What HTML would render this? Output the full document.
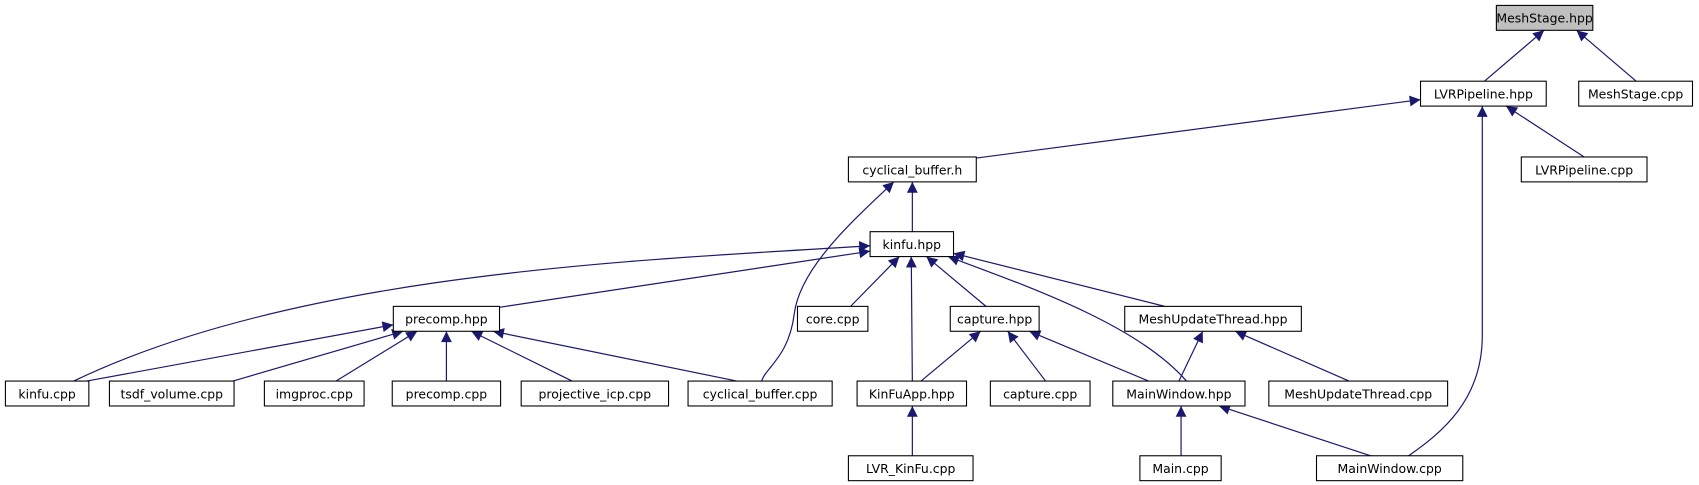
<!DOCTYPE html>
<html><head><meta charset="utf-8"><style>
html,body{margin:0;padding:0;background:#fff;width:1699px;height:485px;overflow:hidden}
svg{display:block}
text{font-family:"DejaVu Sans","Liberation Sans",sans-serif;font-size:11.5px;fill:#000}
.n{fill:#fff;stroke:#000;stroke-width:1}
.e{fill:none;stroke:#191970;stroke-width:1.1}
</style></head><body>
<svg width="1699" height="485" viewBox="0 0 1568 448" preserveAspectRatio="none">
<defs><marker id="a" viewBox="0 0 10 10" refX="10" refY="5" markerWidth="12" markerHeight="10" markerUnits="userSpaceOnUse" orient="auto"><path d="M0,0 L10,5 L0,10 z" fill="#191970"/></marker></defs>
<g class="edges">
<path class="e" marker-end="url(#a)" d="M1370,75 L1425,28"/>
<path class="e" marker-end="url(#a)" d="M1510,75 L1455,28"/>
<path class="e" marker-end="url(#a)" d="M901,146 L1311,92"/>
<path class="e" marker-end="url(#a)" d="M1462,145 L1390,98"/>
<path class="e" marker-end="url(#a)" d="M1300,421 C1330,400 1368,370 1368,310 L1368,98"/>
<path class="e" marker-end="url(#a)" d="M842,214 L842,168"/>
<path class="e" marker-end="url(#a)" d="M703,352 C706,340 728,330 733,290 C738,250 780,210 825,168"/>
<path class="e" marker-end="url(#a)" d="M68,352 C280,250 600,240 803,227"/>
<path class="e" marker-end="url(#a)" d="M460,284 L803,232"/>
<path class="e" marker-end="url(#a)" d="M785,283 L830,237"/>
<path class="e" marker-end="url(#a)" d="M842,352 L841,237"/>
<path class="e" marker-end="url(#a)" d="M910,283 L855,237"/>
<path class="e" marker-end="url(#a)" d="M1095,352 C1050,300 950,265 875,237"/>
<path class="e" marker-end="url(#a)" d="M1075,283 L880,234"/>
<path class="e" marker-end="url(#a)" d="M80,352 L363,300"/>
<path class="e" marker-end="url(#a)" d="M215,352 L372,306"/>
<path class="e" marker-end="url(#a)" d="M310,352 L385,306"/>
<path class="e" marker-end="url(#a)" d="M412,352 L412,306"/>
<path class="e" marker-end="url(#a)" d="M528,352 L435,306"/>
<path class="e" marker-end="url(#a)" d="M680,352 L455,306"/>
<path class="e" marker-end="url(#a)" d="M850,352 L905,306"/>
<path class="e" marker-end="url(#a)" d="M965,352 L930,306"/>
<path class="e" marker-end="url(#a)" d="M1060,352 L950,306"/>
<path class="e" marker-end="url(#a)" d="M1088,352 L1110,306"/>
<path class="e" marker-end="url(#a)" d="M1245,352 L1140,306"/>
<path class="e" marker-end="url(#a)" d="M842,421 L842,375"/>
<path class="e" marker-end="url(#a)" d="M1090,421 L1090,375"/>
<path class="e" marker-end="url(#a)" d="M1265,421 L1125,375"/>
</g>
<g text-anchor="middle">
<rect x="1381" y="5" width="89" height="23" fill="#bfbfbf" stroke="#000"/><text x="1425.5" y="21">MeshStage.hpp</text>
<rect class="n" x="1311" y="75" width="116" height="23"/><text x="1369" y="91">LVRPipeline.hpp</text>
<rect class="n" x="1457" y="75" width="105" height="23"/><text x="1509.5" y="91">MeshStage.cpp</text>
<rect class="n" x="783" y="145" width="118" height="23"/><text x="842" y="161">cyclical_buffer.h</text>
<rect class="n" x="1404" y="145" width="116" height="23"/><text x="1462" y="161">LVRPipeline.cpp</text>
<rect class="n" x="803" y="214" width="77" height="23"/><text x="841.5" y="230">kinfu.hpp</text>
<rect class="n" x="363" y="283" width="98" height="23"/><text x="412" y="299">precomp.hpp</text>
<rect class="n" x="736" y="283" width="65" height="23"/><text x="768.5" y="299">core.cpp</text>
<rect class="n" x="877" y="283" width="82" height="23"/><text x="918" y="299">capture.hpp</text>
<rect class="n" x="1038" y="283" width="163" height="23"/><text x="1119.5" y="299">MeshUpdateThread.hpp</text>
<rect class="n" x="5" y="352" width="77" height="23"/><text x="43.5" y="368">kinfu.cpp</text>
<rect class="n" x="101" y="352" width="115" height="23"/><text x="158.5" y="368">tsdf_volume.cpp</text>
<rect class="n" x="244" y="352" width="92" height="23"/><text x="290" y="368">imgproc.cpp</text>
<rect class="n" x="362" y="352" width="100" height="23"/><text x="412" y="368">precomp.cpp</text>
<rect class="n" x="481" y="352" width="136" height="23"/><text x="549" y="368">projective_icp.cpp</text>
<rect class="n" x="635" y="352" width="133" height="23"/><text x="701.5" y="368">cyclical_buffer.cpp</text>
<rect class="n" x="791" y="352" width="101" height="23"/><text x="841.5" y="368">KinFuApp.hpp</text>
<rect class="n" x="914" y="352" width="92" height="23"/><text x="960" y="368">capture.cpp</text>
<rect class="n" x="1027" y="352" width="122" height="23"/><text x="1088" y="368">MainWindow.hpp</text>
<rect class="n" x="1171" y="352" width="165" height="23"/><text x="1253.5" y="368">MeshUpdateThread.cpp</text>
<rect class="n" x="783" y="421" width="115" height="23"/><text x="840.5" y="437">LVR_KinFu.cpp</text>
<rect class="n" x="1052" y="421" width="75" height="23"/><text x="1089.5" y="437">Main.cpp</text>
<rect class="n" x="1215" y="421" width="135" height="23"/><text x="1282.5" y="437">MainWindow.cpp</text>
</g>
</svg>
</body></html>
